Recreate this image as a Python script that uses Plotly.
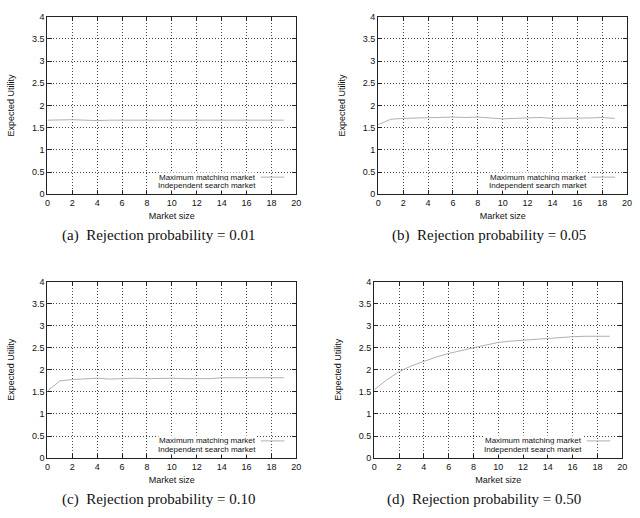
import plotly.graph_objects as go

W, H = 640, 518

market_size = list(range(20))
max_matching_001 = [1.67, 1.68, 1.68, 1.67, 1.66, 1.67, 1.67, 1.67, 1.67, 1.66, 1.66, 1.66, 1.67, 1.67, 1.67, 1.67, 1.66, 1.66, 1.67, 1.67]
max_matching_005 = [1.57, 1.69, 1.71, 1.72, 1.72, 1.74, 1.74, 1.73, 1.74, 1.72, 1.70, 1.71, 1.72, 1.73, 1.71, 1.71, 1.72, 1.72, 1.73, 1.71]
max_matching_010 = [1.52, 1.75, 1.78, 1.79, 1.81, 1.79, 1.80, 1.81, 1.80, 1.81, 1.81, 1.80, 1.80, 1.80, 1.82, 1.82, 1.81, 1.81, 1.81, 1.82]
max_matching_050 = [1.55, 1.77, 1.96, 2.09, 2.19, 2.29, 2.37, 2.44, 2.50, 2.56, 2.62, 2.65, 2.67, 2.69, 2.71, 2.74, 2.75, 2.76, 2.76, 2.76]

panel_series = [max_matching_001, max_matching_005, max_matching_010, max_matching_050]
captions = ["(a)  Rejection probability = 0.01", "(b)  Rejection probability = 0.05",
            "(c)  Rejection probability = 0.10", "(d)  Rejection probability = 0.50"]
legend_labels = ["Maximum matching market", "Independent search market"]
x_title = "Market size"
y_title = "Expected Utility"

# pixel boxes for each panel: left, right, top, bottom
boxes = [(45, 297, 12, 193), (380, 632, 12, 193), (45, 297, 282, 462), (376, 627, 282, 462)]

def px(x):
    return x / W

def py(y):
    return 1 - y / H

fig = go.Figure()
annotations = []
shapes = []
sans = "Liberation Sans, Arial"
tickfont = dict(family=sans, size=9, color="#111")

for i, (vals, cap, box) in enumerate(zip(panel_series, captions, boxes)):
    n = i + 1
    xa = "x" if n == 1 else f"x{n}"
    ya = "y" if n == 1 else f"y{n}"
    L, R, T, B = box
    fig.add_trace(go.Scatter(x=market_size, y=vals, mode="lines",
                             line=dict(color="#b0b0b0", width=1),
                             xaxis=xa, yaxis=ya, showlegend=False,
                             name=legend_labels[0]))
    common = dict(showline=True, linecolor="#222", linewidth=1.3, mirror="ticks",
                  ticks="inside", ticklen=4, tickcolor="#222",
                  showgrid=True, gridcolor="#444", griddash="1px,2px", gridwidth=1,
                  zeroline=False, tickfont=tickfont)
    fig.layout[f"xaxis{'' if n == 1 else n}"] = dict(
        domain=[px(L), px(R)], range=[0, 20], dtick=2, tick0=0,
        anchor=ya, title=dict(text=x_title, font=dict(family=sans, size=9, color="#111"), standoff=5),
        **common)
    fig.layout[f"yaxis{'' if n == 1 else n}"] = dict(
        domain=[py(B), py(T)], range=[0, 4], dtick=0.5, tick0=0,
        anchor=xa, title=dict(text=y_title, font=dict(family=sans, size=9, color="#111"), standoff=15),
        **common)
    # legend (gnuplot style, right aligned text with sample on right)
    text_right = R - 40
    y1 = B - 17.5
    y2 = B - 8.5
    for lab, yy in zip(legend_labels, [y1, y2]):
        annotations.append(dict(text=lab, x=px(text_right), y=py(yy), xref="paper", yref="paper",
                                xanchor="right", yanchor="middle", showarrow=False,
                                bgcolor="white", borderpad=0,
                                font=dict(family=sans, size=8, color="#111")))
    shapes.append(dict(type="line", xref="paper", yref="paper", x0=px(text_right + 4), x1=px(text_right + 28),
                       y0=py(y1), y1=py(y1), line=dict(color="#b0b0b0", width=1)))
    # caption
    annotations.append(dict(text=cap, x=px((L + R) / 2 - 14), y=py(B + 42), xref="paper", yref="paper",
                            xanchor="center", yanchor="middle", showarrow=False,
                            font=dict(family="Liberation Serif, Times New Roman", size=15, color="#111")))

fig.update_layout(width=W, height=H, margin=dict(l=0, r=0, t=0, b=0),
                  paper_bgcolor="white", plot_bgcolor="white",
                  annotations=annotations, shapes=shapes, showlegend=False)

fig.write_html("out.html")
